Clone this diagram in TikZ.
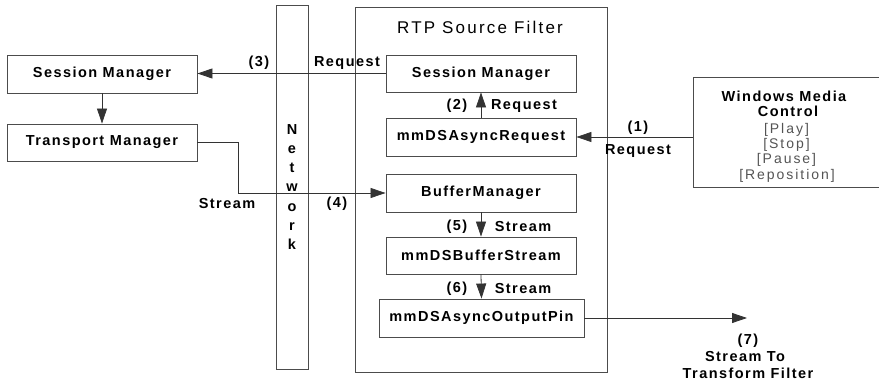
\documentclass[tikz,border=0pt]{standalone}
\usepackage{fontspec}
\newfontfamily\sansls{Liberation Sans}[LetterSpace=10]
\newfontfamily\sansgr{Liberation Sans}[LetterSpace=14]
\newfontfamily\sanstitle{Liberation Sans}[LetterSpace=13]
\usetikzlibrary{arrows.meta}
\definecolor{boxgray}{gray}{0.3}
\definecolor{txtgray}{gray}{0.33}
\newcommand\bfontx{\sansls\bfseries\fontsize{14.5}{16}\selectfont}
\newcommand\gfontx{\sansgr\fontsize{14}{15}\selectfont}
\tikzset{
  box/.style={draw=boxgray, line width=0.9pt, rectangle, inner sep=0pt, anchor=center, font=\bfontx},
  lbl/.style={inner sep=0pt, anchor=center, font=\bfontx},
  glbl/.style={inner sep=0pt, anchor=center, font=\gfontx, text=txtgray},
  arr/.style={draw=black!80, line width=0.8pt, -{Triangle[length=15pt,width=10pt]}},
}
\begin{document}
\begin{tikzpicture}[x=1pt,y=-1pt]
\clip (0,0) rectangle (879,382);
\useasboundingbox (0,0) rectangle (879,382);
% containers
\node[box, minimum width=32pt, minimum height=364pt, align=center,
      font=\bfontx\fontsize{14.5}{19.3}\selectfont] (net) at (292,187) {N\\e\\t\\w\\o\\r\\k};
\node[box, minimum width=252pt, minimum height=365pt] (rtp) at (481,189.5) {};
\node[inner sep=0pt, font=\sanstitle\fontsize{17}{19}\selectfont] (title) at (480,27) {RTP Source Filter};
% left boxes
\node[box, minimum width=190pt, minimum height=38pt] (smL) at (102,74) {Session Manager};
\node[box, minimum width=190pt, minimum height=37pt] (tmL) at (102,142.5) {Transport Manager};
% inner boxes
\node[box, minimum width=190pt, minimum height=37pt] (smR) at (481,73.5) {Session Manager};
\node[box, minimum width=190pt, minimum height=38pt] (req) at (481,137) {mmDSAsyncRequest};
\node[box, minimum width=190pt, minimum height=38pt] (buf) at (481,193) {BufferManager};
\node[box, minimum width=190pt, minimum height=37pt] (bst) at (481,255.5) {mmDSBufferStream};
\node[box, minimum width=205pt, minimum height=38pt] (pin) at (481.5,318) {mmDSAsyncOutputPin};
% windows media control
\node[box, minimum width=192pt, minimum height=110pt] (wmc) at (789,132) {};
\node[lbl] (wmc1) at (784,96) {Windows Media};
\node[lbl] (wmc2) at (788,111.5) {Control};
\node[glbl] (wmc3) at (786.5,129.5) {[Play]};
\node[glbl] (wmc4) at (786.5,144.5) {[Stop]};
\node[glbl] (wmc5) at (786.5,160) {[Pause]};
\node[glbl] (wmc6) at (787,175.5) {[Reposition]};
% connectors
\draw[arr] (smR.west) -- (smR.west -| smL.east);
\draw[arr] (smL.south) -- (tmL.north);
\coordinate (k4) at (238,193);
\draw[arr] (tmL.east) -| (k4) -- (buf.west);
\draw[arr] (wmc.west |- req.east) -- (req.east);
\draw[arr] (req.north) -- (smR.south);
\draw[arr] (buf.south) -- (bst.north);
\draw[arr] (bst.south) -- (pin.north);
\coordinate (out) at (747,318);
\draw[arr] (pin.east) -- (out);
% labels
\node[lbl] (l3) at (259,63) {(3)};
\node[lbl] (l3r) at (347,63) {Request};
\node[lbl] (l4s) at (227,204) {Stream};
\node[lbl] (l4) at (337,204) {(4)};
\node[lbl] (l2) at (457,106) {(2)};
\node[lbl] (l2r) at (524,106) {Request};
\node[lbl] (l1) at (638,128) {(1)};
\node[lbl] (l1r) at (638,151) {Request};
\node[lbl] (l5) at (457,227) {(5)};
\node[lbl] (l5s) at (523,227) {Stream};
\node[lbl] (l6) at (457,289) {(6)};
\node[lbl] (l6s) at (523,289) {Stream};
\node[lbl] (l7) at (748,341) {(7)};
\node[lbl] (l7a) at (745,357) {Stream To};
\node[lbl] (l7b) at (748,373) {Transform Filter};
\end{tikzpicture}
\end{document}
